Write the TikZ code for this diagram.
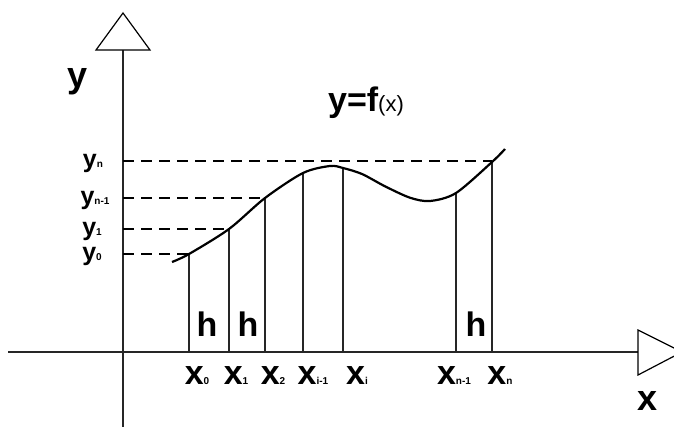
\documentclass[tikz,border=0pt]{standalone}
\usepackage{fontspec}
\setmainfont{Liberation Sans}
\newcommand\mylab[3][30]{{\fontsize{#1}{#1}\selectfont\bfseries #2}{\fontsize{10}{10}\selectfont\bfseries #3}}
\begin{document}
\begin{tikzpicture}[x=1pt,y=-1pt,
  axis/.style={line width=1.4pt,black!85},
  arrowtri/.style={line width=1.2pt,fill=white,line join=miter},
  ord/.style={line width=1.3pt,black!85},
  guide/.style={line width=1.2pt,dash pattern=on 11pt off 7pt},
  curve/.style={line width=2.2pt,line join=round},
  lbl/.style={inner sep=0pt,anchor=base},
  hlbl/.style={inner sep=0pt,font=\fontsize{34}{34}\selectfont\bfseries}]
\useasboundingbox (0,0) rectangle (674,426);
% axes
\coordinate (O) at (123,352);
\coordinate (xs) at (8,352);
\coordinate (xe) at (638,352);
\coordinate (ys) at (123,430);
\coordinate (ye) at (123,50);
\draw[axis] (xs) -- (xe);
\draw[axis] (ys) -- (ye);
\draw[arrowtri] (96,50) -- (123,13) -- (150,50) -- cycle;
\draw[arrowtri] (638,330) -- (682,352) -- (638,375) -- cycle;
% curve points
\coordinate (c0) at (189,254);
\coordinate (c1) at (229,229);
\coordinate (c2) at (265,198);
\coordinate (c3) at (303,173);
\coordinate (c4) at (343,168);
\coordinate (c5) at (456,193);
\coordinate (c6) at (492,162);
\foreach \i/\x in {0/189,1/229,2/265,3/303,4/343,5/456,6/492}
  \coordinate (b\i) at (\x,352);
% ordinates
\foreach \i in {0,...,6} \draw[ord] (b\i) -- (c\i);
% dashed guides
\coordinate (g0) at (123,254);
\coordinate (g1) at (123,229);
\coordinate (g2) at (123,198);
\coordinate (g3) at (123,161);
\draw[guide] (g0) -- (c0);
\draw[guide] (g1) -- (c1);
\draw[guide] (g2) -- (c2);
\draw[guide] (g3) -- (c6 |- g3);
% curve
\draw[curve] plot[smooth,tension=0.5] coordinates {(172,262) (c0) (c1) (c2) (c3) (330,166) (c4) (362,174) (385,186.3) (410,197.7) (430,201) (c5) (c6) (505,149)};
% y labels
\node[lbl] (ly3) at (93,167) {\mylab[25]{y}{n}};
\node[lbl] (ly2) at (95,204) {\mylab[25]{y}{n-1}};
\node[lbl] (ly1) at (92,235) {\mylab[25]{y}{1}};
\node[lbl] (ly0) at (92,260) {\mylab[25]{y}{0}};
% x labels
\node[lbl] (lx0) at (197,384) {\mylab[34]{x}{0}};
\node[lbl] (lx1) at (236,384) {\mylab[34]{x}{1}};
\node[lbl] (lx2) at (273,384) {\mylab[34]{x}{2}};
\node[lbl] (lx3) at (313,384) {\mylab[34]{x}{i-1}};
\node[lbl] (lx4) at (357,384) {\mylab[34]{x}{i}};
\node[lbl] (lx5) at (454,384) {\mylab[34]{x}{n-1}};
\node[lbl] (lx6) at (500,384) {\mylab[34]{x}{n}};
% h labels
\node[hlbl] (h1) at (207,324) {h};
\node[hlbl] (h2) at (248,324) {h};
\node[hlbl] (h3) at (476,324) {h};
% axis names and function
\node[lbl] (ay) at (78,87) {\mylab[36]{y}{}};
\node[lbl] (ax) at (648,410) {\mylab[36]{x}{}};
\node[lbl] (fx) at (366,111) {{\fontsize{34}{34}\selectfont\bfseries y=f}{\fontsize{22}{22}\selectfont (x)}};
\end{tikzpicture}
\end{document}
